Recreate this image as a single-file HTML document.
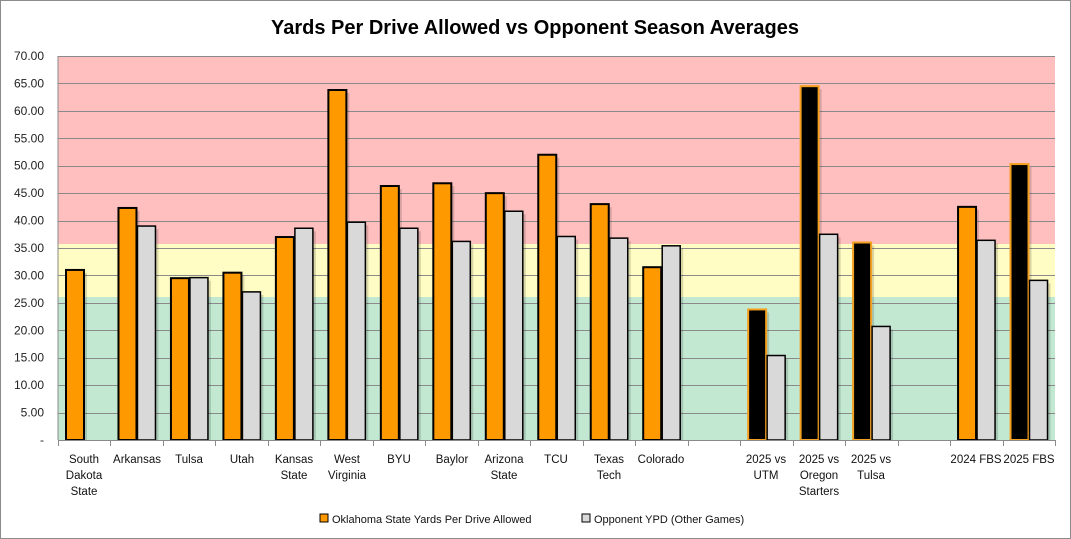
<!DOCTYPE html>
<html><head><meta charset="utf-8"><style>
html,body{margin:0;padding:0;background:#fff;}
svg{display:block;font-family:"Liberation Sans","DejaVu Sans",sans-serif;}
</style></head><body>
<svg id="c" width="1071" height="539" viewBox="0 0 1071 539" xmlns="http://www.w3.org/2000/svg">
<rect x="0.5" y="0.5" width="1070" height="538" fill="#fff" stroke="#8c8c8c"/>
<text x="535" y="34" text-anchor="middle" font-size="20" font-weight="bold" fill="#000">Yards Per Drive Allowed vs Opponent Season Averages</text>
<rect x="58" y="56" width="997" height="188" fill="#ffbfbf"/>
<rect x="58" y="244" width="997" height="53" fill="#fffcc4"/>
<rect x="58" y="297" width="997" height="143" fill="#c2e8d2"/>
<g id="grid" stroke="#8a8a8a" stroke-width="1"></g>
<g id="ylab" font-size="12" fill="#222" text-anchor="end"></g>
<g id="bars"></g>
<line x1="58" y1="56" x2="58" y2="440" stroke="#8a8a8a"/>
<line x1="58" y1="440.5" x2="1055" y2="440.5" stroke="#8a8a8a"/>
<g id="ticks" stroke="#8a8a8a"></g>
<g font-size="11.5" fill="#111" text-anchor="middle">
<text x="84" y="463">South</text><text x="84" y="479">Dakota</text><text x="84" y="495">State</text>
<text x="137" y="463">Arkansas</text>
<text x="189" y="463">Tulsa</text>
<text x="242" y="463">Utah</text>
<text x="294" y="463">Kansas</text><text x="294" y="479">State</text>
<text x="347" y="463">West</text><text x="347" y="479">Virginia</text>
<text x="399" y="463">BYU</text>
<text x="452" y="463">Baylor</text>
<text x="504" y="463">Arizona</text><text x="504" y="479">State</text>
<text x="556" y="463">TCU</text>
<text x="609" y="463">Texas</text><text x="609" y="479">Tech</text>
<text x="661" y="463">Colorado</text>
<text x="766" y="463">2025 vs</text><text x="766" y="479">UTM</text>
<text x="819" y="463">2025 vs</text><text x="819" y="479">Oregon</text><text x="819" y="495">Starters</text>
<text x="871" y="463">2025 vs</text><text x="871" y="479">Tulsa</text>
<text x="976" y="463">2024 FBS</text>
<text x="1029" y="463">2025 FBS</text>
</g>
<rect x="320" y="514" width="8" height="8" fill="#ff9900" stroke="#000"/>
<text x="332" y="523" font-size="11" fill="#111">Oklahoma State Yards Per Drive Allowed</text>
<rect x="582" y="514" width="8" height="8" fill="#d9d9d9" stroke="#000"/>
<text x="594" y="523" font-size="11" fill="#111">Opponent YPD (Other Games)</text>
</svg>
<script>
var NS="http://www.w3.org/2000/svg";
function el(p,t,a){var e=document.createElementNS(NS,t);for(var k in a)e.setAttribute(k,a[k]);document.getElementById(p).appendChild(e);return e;}
function Y(v){return 440-v*384/70;}
for(var v=5;v<=70;v+=5){el("grid","line",{x1:58,x2:1055,y1:Math.round(Y(v))+0.5,y2:Math.round(Y(v))+0.5});}
for(var v=0;v<=70;v+=5){var t=el("ylab","text",{x:44,y:Y(v)+4});t.textContent=v==0?"-":v.toFixed(2);}
var W=997/19;
for(var i=0;i<=19;i++){var x=Math.round(58+W*i)+0.5;el("ticks","line",{x1:x,x2:x,y1:440,y2:446});}
var d=[[0,31.0,null,0],[1,42.3,39.0,0],[2,29.5,29.6,0],[3,30.5,27.0,0],[4,37.0,38.6,0],[5,63.8,39.7,0],[6,46.3,38.6,0],[7,46.8,36.2,0],[8,45.0,41.7,0],[9,52.0,37.1,0],[10,43.0,36.8,0],[11,31.5,35.4,0],[13,23.8,15.4,1],[14,64.5,37.5,1],[15,36.0,20.7,1],[17,42.5,36.4,0],[18,50.3,29.1,1]];
d.forEach(function(r){var s=58+W*r[0];
 var x=s+8;
 el("bars","rect",{x:x+3,y:Y(r[1])+3,width:18,height:440-Y(r[1])-3,fill:"rgba(0,0,0,0.15)"});
 if(r[3])el("bars","rect",{x:x,y:Y(r[1]),width:18,height:440-Y(r[1]),fill:"#000",stroke:"#f4a020","stroke-width":2});
 else el("bars","rect",{x:x,y:Y(r[1]),width:18,height:440-Y(r[1]),fill:"#ff9900",stroke:"#000","stroke-width":2});
 if(r[2]!=null){var g=s+27;
 el("bars","rect",{x:g+3,y:Y(r[2])+3,width:18,height:440-Y(r[2])-3,fill:"rgba(0,0,0,0.15)"});
 el("bars","rect",{x:g,y:Y(r[2]),width:18,height:440-Y(r[2]),fill:"#d9d9d9",stroke:"#000","stroke-width":1.5});}
});
</script>
</body></html>
